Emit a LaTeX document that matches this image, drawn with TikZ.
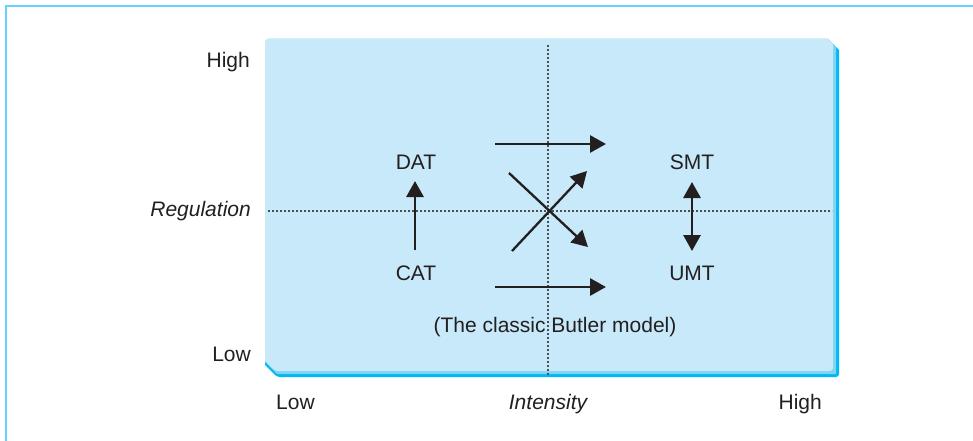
\documentclass[tikz,border=0pt]{standalone}
\usepackage{fontspec}
\setmainfont{Liberation Sans}
\usetikzlibrary{arrows.meta}
\definecolor{panelfill}{HTML}{C7E9F9}
\definecolor{panelmid}{HTML}{7FD3F5}
\definecolor{paneledge}{HTML}{00B9F2}
\definecolor{framecol}{HTML}{66D2FF}
\definecolor{inkcol}{HTML}{231F20}
\tikzset{
  lbl/.style={font=\fontsize{21}{24}\selectfont, text=inkcol, inner sep=0pt},
  axislbl/.style={lbl, font=\fontsize{21}{24}\selectfont\itshape},
  guide/.style={draw=inkcol!80, line width=1.1pt, dash pattern=on 2pt off 2pt},
  flow/.style={draw=inkcol, line width=2.9pt, -{Triangle[length=16pt,width=17pt]}},
  flowboth/.style={draw=inkcol, line width=2.9pt, {Triangle[length=16pt,width=17pt]}-{Triangle[length=16pt,width=17pt]}}
}
\begin{document}
\begin{tikzpicture}[x=1pt,y=-1pt]
\useasboundingbox (0,0) rectangle (973,441);
% outer frame (top and left)
\draw[framecol, line width=2pt] (6,441) -- (6,6.5) -- (973,6.5);
% panel with shaded right/bottom edge
\fill[paneledge] (268,39) -- (828,39) -- (839,50) -- (839,373) [rounded corners=3pt] -- (839,377) -- (277,377) [sharp corners] -- (265,365) -- (265,42) -- cycle;
\fill[panelmid] (268,39) -- (828,39) -- (836,47) -- (836,371) -- (836,374) -- (277,374) -- (265,362) -- (265,42) -- cycle;
\fill[panelfill] (268,39) -- (828,39) -- (833,44) -- (833,368) [rounded corners=3pt] -- (833,371) -- (275,371) [sharp corners] -- (265,361) -- (265,42) [rounded corners=3pt] -- (265,39) -- cycle;
% guide lines
\coordinate (vtop) at (548,45);
\coordinate (vbot) at (548,376);
\coordinate (hl) at (268,211);
\coordinate (hr) at (832,211);
\draw[guide] (vtop) -- (vbot);
\draw[guide] (hl) -- (hr);
% axis labels
\node[lbl, anchor=base east] (yhigh) at (250,68) {High};
\node[axislbl, anchor=base east] (yreg) at (251,216) {Regulation};
\node[lbl, anchor=base east] (ylow) at (251,361) {Low};
\node[lbl, anchor=base west] (xlow) at (276,409) {Low};
\node[axislbl, anchor=base] (xint) at (548,409) {Intensity};
\node[lbl, anchor=base east] (xhigh) at (822,409) {High};
% quadrant labels
\node[lbl, anchor=base] (dat) at (416,169) {DAT};
\node[lbl, anchor=base] (cat) at (416,280) {CAT};
\node[lbl, anchor=base] (smt) at (692,169) {SMT};
\node[lbl, anchor=base] (umt) at (692,280) {UMT};
\node[lbl, anchor=base] (butler) at (555,332) {(The classic Butler model)};
% arrow endpoints
\coordinate (a1s) at (415,250);
\coordinate (a1e) at (415,181);
\coordinate (a2s) at (692,182);
\coordinate (a2e) at (692,251);
\coordinate (t1s) at (495,144);
\coordinate (t1e) at (606,144);
\coordinate (b1s) at (495,287);
\coordinate (b1e) at (606,287);
\coordinate (c1s) at (509,173);
\coordinate (c1e) at (588,247);
\coordinate (c2s) at (512,251);
\coordinate (c2e) at (587,171);
% arrows
\draw[flow] (a1s) -- (a1e);
\draw[flowboth] (a2s) -- (a2e);
\draw[flow] (t1s) -- (t1e);
\draw[flow] (b1s) -- (b1e);
\draw[flow, line width=2.3pt] (c1s) -- (c1e);
\draw[flow, line width=2.3pt] (c2s) -- (c2e);
\end{tikzpicture}
\end{document}
